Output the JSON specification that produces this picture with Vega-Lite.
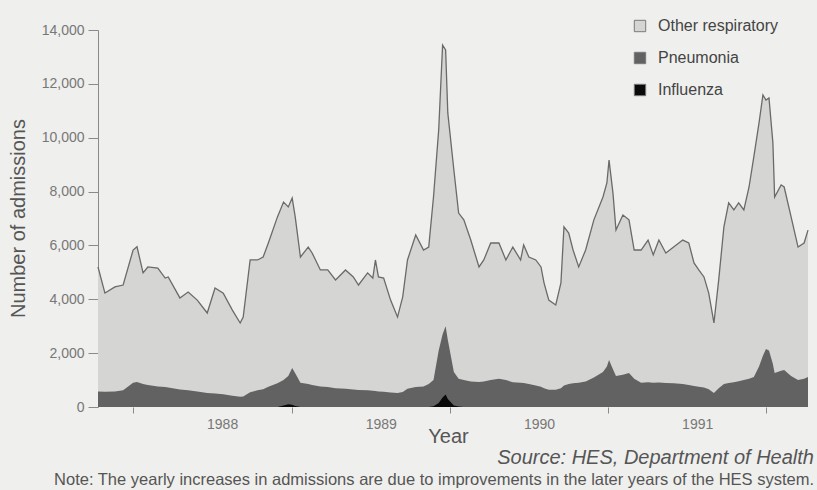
{
  "$schema": "https://vega.github.io/schema/vega-lite/v6.json",
  "width": 710,
  "height": 377,
  "autosize": {"type": "none"},
  "padding": {"left": 98, "top": 30, "right": 9, "bottom": 83},
  "background": "#efefed",
  "config": {
    "view": {"stroke": null},
    "font": "Liberation Sans",
    "axis": {"grid": false, "domainColor": "#8a8a8a", "tickColor": "#8a8a8a", "labelColor": "#777777", "labelFont": "Liberation Sans", "titleFont": "Liberation Sans", "titleFontWeight": "normal", "titleColor": "#555555"}
  },
  "title": {
    "text": "Source: HES, Department of Health",
    "subtitle": "Note:  The yearly increases in admissions are due to improvements in the later years of the HES system.",
    "orient": "bottom",
    "anchor": "end",
    "frame": "group",
    "dx": 6,
    "offset": 2,
    "font": "Liberation Sans",
    "fontStyle": "italic",
    "fontWeight": "normal",
    "fontSize": 20,
    "color": "#555555",
    "subtitleFont": "Liberation Sans",
    "subtitleFontSize": 16.5,
    "subtitleColor": "#555555",
    "subtitlePadding": 4
  },
  "data": {
    "values": [
      {"date": "1987-10-12", "total": 5200, "pneumonia_plus_influenza": 580, "influenza": 0},
      {"date": "1987-10-28", "total": 4230, "pneumonia_plus_influenza": 570, "influenza": 0},
      {"date": "1987-11-20", "total": 4460, "pneumonia_plus_influenza": 580, "influenza": 0},
      {"date": "1987-12-09", "total": 4530, "pneumonia_plus_influenza": 620, "influenza": 0},
      {"date": "1988-01-01", "total": 5830, "pneumonia_plus_influenza": 900, "influenza": 0},
      {"date": "1988-01-10", "total": 5950, "pneumonia_plus_influenza": 930, "influenza": 0},
      {"date": "1988-01-24", "total": 4980, "pneumonia_plus_influenza": 850, "influenza": 0},
      {"date": "1988-02-04", "total": 5200, "pneumonia_plus_influenza": 820, "influenza": 0},
      {"date": "1988-02-27", "total": 5160, "pneumonia_plus_influenza": 760, "influenza": 0},
      {"date": "1988-03-15", "total": 4790, "pneumonia_plus_influenza": 740, "influenza": 0},
      {"date": "1988-03-22", "total": 4830, "pneumonia_plus_influenza": 720, "influenza": 0},
      {"date": "1988-04-18", "total": 4050, "pneumonia_plus_influenza": 650, "influenza": 0},
      {"date": "1988-05-07", "total": 4270, "pneumonia_plus_influenza": 620, "influenza": 0},
      {"date": "1988-05-28", "total": 3970, "pneumonia_plus_influenza": 580, "influenza": 0},
      {"date": "1988-06-20", "total": 3490, "pneumonia_plus_influenza": 520, "influenza": 0},
      {"date": "1988-07-08", "total": 4420, "pneumonia_plus_influenza": 500, "influenza": 0},
      {"date": "1988-07-27", "total": 4230, "pneumonia_plus_influenza": 470, "influenza": 0},
      {"date": "1988-08-17", "total": 3600, "pneumonia_plus_influenza": 420, "influenza": 0},
      {"date": "1988-09-04", "total": 3120, "pneumonia_plus_influenza": 380, "influenza": 0},
      {"date": "1988-09-11", "total": 3340, "pneumonia_plus_influenza": 390, "influenza": 0},
      {"date": "1988-09-27", "total": 5460, "pneumonia_plus_influenza": 550, "influenza": 0},
      {"date": "1988-10-14", "total": 5460, "pneumonia_plus_influenza": 620, "influenza": 0},
      {"date": "1988-10-27", "total": 5570, "pneumonia_plus_influenza": 660, "influenza": 0},
      {"date": "1988-11-08", "total": 6090, "pneumonia_plus_influenza": 750, "influenza": 0},
      {"date": "1988-11-29", "total": 7060, "pneumonia_plus_influenza": 880, "influenza": 0},
      {"date": "1988-12-13", "total": 7610, "pneumonia_plus_influenza": 1000, "influenza": 60},
      {"date": "1988-12-24", "total": 7430, "pneumonia_plus_influenza": 1150, "influenza": 100},
      {"date": "1989-01-02", "total": 7760, "pneumonia_plus_influenza": 1450, "influenza": 80},
      {"date": "1989-01-09", "total": 7060, "pneumonia_plus_influenza": 1250, "influenza": 40},
      {"date": "1989-01-21", "total": 5570, "pneumonia_plus_influenza": 900, "influenza": 0},
      {"date": "1989-02-08", "total": 5940, "pneumonia_plus_influenza": 850, "influenza": 0},
      {"date": "1989-02-17", "total": 5720, "pneumonia_plus_influenza": 820, "influenza": 0},
      {"date": "1989-03-08", "total": 5090, "pneumonia_plus_influenza": 760, "influenza": 0},
      {"date": "1989-03-25", "total": 5090, "pneumonia_plus_influenza": 740, "influenza": 0},
      {"date": "1989-04-12", "total": 4720, "pneumonia_plus_influenza": 700, "influenza": 0},
      {"date": "1989-05-05", "total": 5090, "pneumonia_plus_influenza": 680, "influenza": 0},
      {"date": "1989-05-23", "total": 4830, "pneumonia_plus_influenza": 650, "influenza": 0},
      {"date": "1989-06-04", "total": 4530, "pneumonia_plus_influenza": 630, "influenza": 0},
      {"date": "1989-06-25", "total": 4980, "pneumonia_plus_influenza": 620, "influenza": 0},
      {"date": "1989-07-07", "total": 4790, "pneumonia_plus_influenza": 600, "influenza": 0},
      {"date": "1989-07-13", "total": 5460, "pneumonia_plus_influenza": 590, "influenza": 0},
      {"date": "1989-07-20", "total": 4830, "pneumonia_plus_influenza": 580, "influenza": 0},
      {"date": "1989-08-01", "total": 4790, "pneumonia_plus_influenza": 570, "influenza": 0},
      {"date": "1989-08-17", "total": 3970, "pneumonia_plus_influenza": 540, "influenza": 0},
      {"date": "1989-09-02", "total": 3340, "pneumonia_plus_influenza": 520, "influenza": 0},
      {"date": "1989-09-14", "total": 4090, "pneumonia_plus_influenza": 560, "influenza": 0},
      {"date": "1989-09-25", "total": 5460, "pneumonia_plus_influenza": 680, "influenza": 0},
      {"date": "1989-10-14", "total": 6390, "pneumonia_plus_influenza": 740, "influenza": 0},
      {"date": "1989-11-01", "total": 5830, "pneumonia_plus_influenza": 760, "influenza": 0},
      {"date": "1989-11-13", "total": 5940, "pneumonia_plus_influenza": 850, "influenza": 0},
      {"date": "1989-11-24", "total": 7800, "pneumonia_plus_influenza": 1000, "influenza": 30},
      {"date": "1989-12-06", "total": 10290, "pneumonia_plus_influenza": 2100, "influenza": 150},
      {"date": "1989-12-15", "total": 13440, "pneumonia_plus_influenza": 2700, "influenza": 350},
      {"date": "1989-12-22", "total": 13260, "pneumonia_plus_influenza": 3000, "influenza": 460},
      {"date": "1989-12-27", "total": 10920, "pneumonia_plus_influenza": 2500, "influenza": 300},
      {"date": "1990-01-10", "total": 8800, "pneumonia_plus_influenza": 1300, "influenza": 60},
      {"date": "1990-01-21", "total": 7200, "pneumonia_plus_influenza": 1050, "influenza": 20},
      {"date": "1990-02-02", "total": 6950, "pneumonia_plus_influenza": 1000, "influenza": 0},
      {"date": "1990-02-18", "total": 6200, "pneumonia_plus_influenza": 950, "influenza": 0},
      {"date": "1990-03-09", "total": 5200, "pneumonia_plus_influenza": 930, "influenza": 0},
      {"date": "1990-03-20", "total": 5460, "pneumonia_plus_influenza": 950, "influenza": 0},
      {"date": "1990-04-05", "total": 6090, "pneumonia_plus_influenza": 1000, "influenza": 0},
      {"date": "1990-04-24", "total": 6090, "pneumonia_plus_influenza": 1050, "influenza": 0},
      {"date": "1990-05-10", "total": 5460, "pneumonia_plus_influenza": 1000, "influenza": 0},
      {"date": "1990-05-26", "total": 5940, "pneumonia_plus_influenza": 920, "influenza": 0},
      {"date": "1990-06-13", "total": 5460, "pneumonia_plus_influenza": 900, "influenza": 0},
      {"date": "1990-06-20", "total": 6020, "pneumonia_plus_influenza": 890, "influenza": 0},
      {"date": "1990-07-02", "total": 5570, "pneumonia_plus_influenza": 850, "influenza": 0},
      {"date": "1990-07-18", "total": 5460, "pneumonia_plus_influenza": 800, "influenza": 0},
      {"date": "1990-07-30", "total": 5200, "pneumonia_plus_influenza": 750, "influenza": 0},
      {"date": "1990-08-06", "total": 4610, "pneumonia_plus_influenza": 700, "influenza": 0},
      {"date": "1990-08-17", "total": 3970, "pneumonia_plus_influenza": 640, "influenza": 0},
      {"date": "1990-09-02", "total": 3790, "pneumonia_plus_influenza": 640, "influenza": 0},
      {"date": "1990-09-14", "total": 4610, "pneumonia_plus_influenza": 700, "influenza": 0},
      {"date": "1990-09-21", "total": 6690, "pneumonia_plus_influenza": 800, "influenza": 0},
      {"date": "1990-10-02", "total": 6460, "pneumonia_plus_influenza": 850, "influenza": 0},
      {"date": "1990-10-12", "total": 5830, "pneumonia_plus_influenza": 880, "influenza": 0},
      {"date": "1990-10-25", "total": 5200, "pneumonia_plus_influenza": 900, "influenza": 0},
      {"date": "1990-11-10", "total": 5830, "pneumonia_plus_influenza": 950, "influenza": 0},
      {"date": "1990-11-29", "total": 6950, "pneumonia_plus_influenza": 1100, "influenza": 0},
      {"date": "1990-12-20", "total": 7800, "pneumonia_plus_influenza": 1300, "influenza": 0},
      {"date": "1990-12-29", "total": 8320, "pneumonia_plus_influenza": 1500, "influenza": 0},
      {"date": "1991-01-03", "total": 9170, "pneumonia_plus_influenza": 1750, "influenza": 0},
      {"date": "1991-01-12", "total": 7950, "pneumonia_plus_influenza": 1400, "influenza": 0},
      {"date": "1991-01-19", "total": 6570, "pneumonia_plus_influenza": 1150, "influenza": 0},
      {"date": "1991-02-04", "total": 7130, "pneumonia_plus_influenza": 1200, "influenza": 0},
      {"date": "1991-02-18", "total": 6950, "pneumonia_plus_influenza": 1260, "influenza": 0},
      {"date": "1991-03-02", "total": 5830, "pneumonia_plus_influenza": 1050, "influenza": 0},
      {"date": "1991-03-18", "total": 5830, "pneumonia_plus_influenza": 900, "influenza": 0},
      {"date": "1991-04-03", "total": 6200, "pneumonia_plus_influenza": 920, "influenza": 0},
      {"date": "1991-04-15", "total": 5650, "pneumonia_plus_influenza": 900, "influenza": 0},
      {"date": "1991-04-28", "total": 6200, "pneumonia_plus_influenza": 910, "influenza": 0},
      {"date": "1991-05-14", "total": 5720, "pneumonia_plus_influenza": 890, "influenza": 0},
      {"date": "1991-06-01", "total": 5940, "pneumonia_plus_influenza": 880, "influenza": 0},
      {"date": "1991-06-22", "total": 6200, "pneumonia_plus_influenza": 850, "influenza": 0},
      {"date": "1991-07-06", "total": 6090, "pneumonia_plus_influenza": 820, "influenza": 0},
      {"date": "1991-07-18", "total": 5350, "pneumonia_plus_influenza": 780, "influenza": 0},
      {"date": "1991-07-29", "total": 5090, "pneumonia_plus_influenza": 750, "influenza": 0},
      {"date": "1991-08-10", "total": 4830, "pneumonia_plus_influenza": 720, "influenza": 0},
      {"date": "1991-08-21", "total": 4230, "pneumonia_plus_influenza": 660, "influenza": 0},
      {"date": "1991-09-02", "total": 3120, "pneumonia_plus_influenza": 520, "influenza": 0},
      {"date": "1991-09-13", "total": 4720, "pneumonia_plus_influenza": 700, "influenza": 0},
      {"date": "1991-09-25", "total": 6690, "pneumonia_plus_influenza": 850, "influenza": 0},
      {"date": "1991-10-06", "total": 7580, "pneumonia_plus_influenza": 890, "influenza": 0},
      {"date": "1991-10-18", "total": 7320, "pneumonia_plus_influenza": 920, "influenza": 0},
      {"date": "1991-10-29", "total": 7580, "pneumonia_plus_influenza": 960, "influenza": 0},
      {"date": "1991-11-10", "total": 7320, "pneumonia_plus_influenza": 1000, "influenza": 0},
      {"date": "1991-11-22", "total": 8170, "pneumonia_plus_influenza": 1050, "influenza": 0},
      {"date": "1991-12-03", "total": 9290, "pneumonia_plus_influenza": 1110, "influenza": 0},
      {"date": "1991-12-15", "total": 10550, "pneumonia_plus_influenza": 1500, "influenza": 0},
      {"date": "1991-12-24", "total": 11590, "pneumonia_plus_influenza": 1900, "influenza": 0},
      {"date": "1991-12-31", "total": 11400, "pneumonia_plus_influenza": 2150, "influenza": 0},
      {"date": "1992-01-07", "total": 11480, "pneumonia_plus_influenza": 2100, "influenza": 0},
      {"date": "1992-01-16", "total": 9810, "pneumonia_plus_influenza": 1600, "influenza": 0},
      {"date": "1992-01-20", "total": 7800, "pneumonia_plus_influenza": 1260, "influenza": 0},
      {"date": "1992-02-04", "total": 8250, "pneumonia_plus_influenza": 1350, "influenza": 0},
      {"date": "1992-02-11", "total": 8170, "pneumonia_plus_influenza": 1370, "influenza": 0},
      {"date": "1992-02-27", "total": 7060, "pneumonia_plus_influenza": 1150, "influenza": 0},
      {"date": "1992-03-14", "total": 5940, "pneumonia_plus_influenza": 1000, "influenza": 0},
      {"date": "1992-03-28", "total": 6090, "pneumonia_plus_influenza": 1050, "influenza": 0},
      {"date": "1992-04-06", "total": 6570, "pneumonia_plus_influenza": 1110, "influenza": 0}
    ]
  },
  "encoding": {
    "x": {
      "field": "date",
      "type": "temporal",
      "scale": {"type": "utc", "domain": [{"year": 1987, "month": 10, "date": 12, "utc": true}, {"year": 1992, "month": 4, "date": 6, "utc": true}]},
      "axis": {
        "title": "Year",
        "titleFontSize": 20,
        "titleX": 350,
        "titleY": 35,
        "titleAnchor": null,
        "titleAlign": "center",
        "titleBaseline": "alphabetic",
        "values": [
          {"year": 1988, "month": 1, "date": 1, "utc": true},
          {"year": 1989, "month": 1, "date": 1, "utc": true},
          {"year": 1990, "month": 1, "date": 1, "utc": true},
          {"year": 1991, "month": 1, "date": 1, "utc": true},
          {"year": 1992, "month": 1, "date": 1, "utc": true}
        ],
        "labelExpr": "utcFormat(datum.value, '%Y') == '1992' ? '' : utcFormat(datum.value, '%Y')",
        "labelOffset": 89,
        "labelFlush": false,
        "labelOverlap": false,
        "labelFontSize": 14,
        "labelPadding": 4,
        "tickSize": 6,
        "domain": false
      }
    }
  },
  "layer": [
    {
      "mark": {"type": "area", "interpolate": "linear"},
      "encoding": {
        "y": {
          "field": "total",
          "type": "quantitative",
          "scale": {"domain": [0, 14000], "nice": false},
          "axis": {
            "title": "Number of admissions",
            "titleFontSize": 20,
            "titleX": -80,
            "titleY": 188,
            "titleAngle": -90,
            "titleAlign": "center",
            "titleBaseline": "middle",
            "values": [0, 2000, 4000, 6000, 8000, 10000, 12000, 14000],
            "format": ",.0f",
            "labelFontSize": 14,
            "labelPadding": 4,
            "tickSize": 10
          }
        },
        "color": {
          "datum": "Other respiratory",
          "type": "nominal",
          "scale": {"domain": ["Other respiratory", "Pneumonia", "Influenza"], "range": ["#d5d5d3", "#626262", "#0a0a0a"]},
          "legend": {
            "title": null,
            "orient": "none",
            "legendX": 534,
            "legendY": -12,
            "symbolType": "square",
            "symbolSize": 130,
            "symbolStrokeColor": "#7a7a7a",
            "symbolStrokeWidth": 1,
            "labelFont": "Liberation Sans",
            "labelFontSize": 16,
            "labelColor": "#444444",
            "labelOffset": 10,
            "rowPadding": 16
          }
        }
      }
    },
    {
      "mark": {"type": "line", "color": "#6a6a6a", "strokeWidth": 1.3},
      "encoding": {"y": {"field": "total", "type": "quantitative"}}
    },
    {
      "mark": {"type": "area"},
      "encoding": {
        "y": {"field": "pneumonia_plus_influenza", "type": "quantitative"},
        "color": {"datum": "Pneumonia", "type": "nominal"}
      }
    },
    {
      "mark": {"type": "area"},
      "encoding": {
        "y": {"field": "influenza", "type": "quantitative"},
        "color": {"datum": "Influenza", "type": "nominal"}
      }
    }
  ]
}
